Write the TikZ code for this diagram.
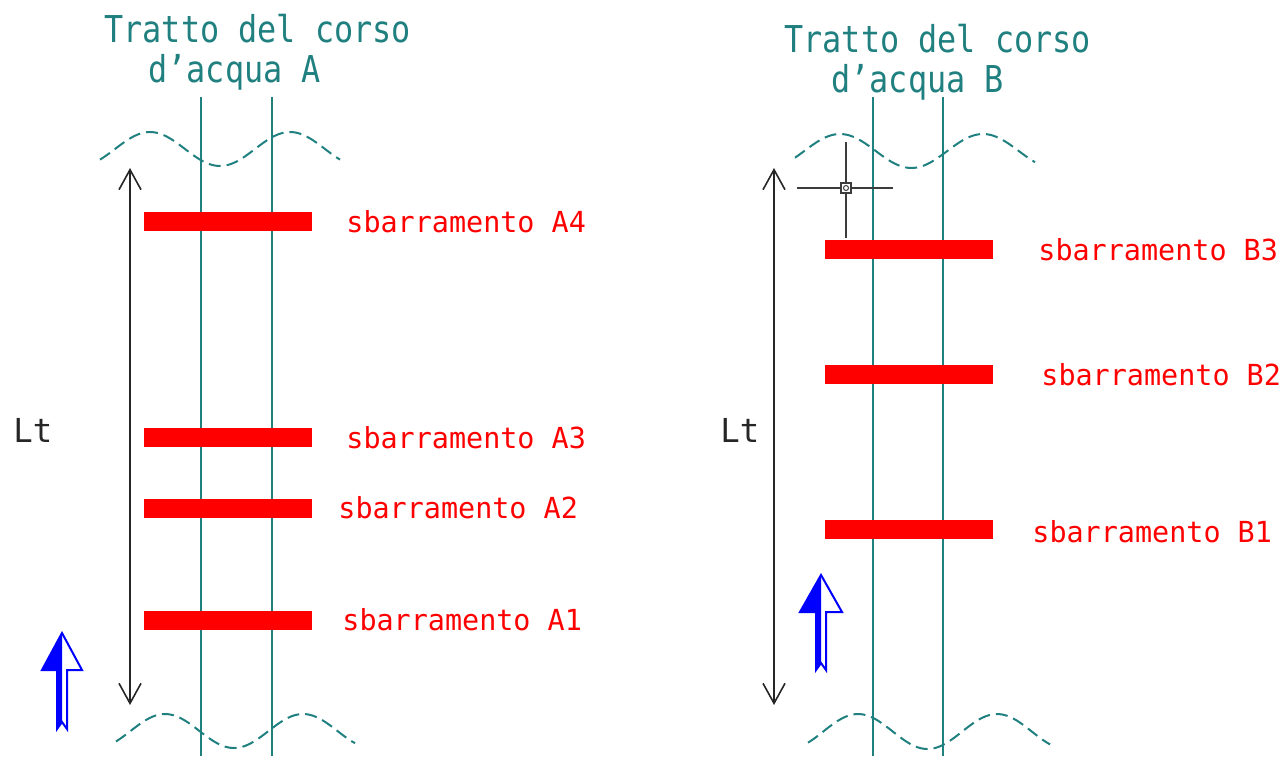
\documentclass[tikz,border=0pt]{standalone}
\usepackage{fontspec}
\newfontfamily\cadtitle[FakeStretch=0.86]{DejaVu Sans Mono}
\newfontfamily\cadlabel[FakeStretch=0.98]{DejaVu Sans Mono}
\usetikzlibrary{arrows.meta, positioning}

\definecolor{riverteal}{RGB}{32,128,128}
\definecolor{barred}{RGB}{255,0,0}
\definecolor{cursorgray}{RGB}{60,60,60}
\definecolor{flowblue}{RGB}{0,0,255}

\tikzset{
    river/.style={riverteal, line width=1pt},
    wave/.style={riverteal, line width=1pt, dash pattern=on 6pt off 3pt},
    bar/.style={fill=barred, minimum width=84pt, minimum height=9.5pt, inner sep=0pt},
    barlabel/.style={text=barred, anchor=base west, inner sep=0pt, font=\cadlabel\fontsize{14.5}{17}\selectfont},
    title/.style={text=riverteal, anchor=base west, inner sep=0pt, font=\cadtitle\fontsize{18.5}{22}\selectfont},
    dimline/.style={line width=0.8pt, black!85, {Straight Barb[length=10pt,width=11pt]}-{Straight Barb[length=10pt,width=11pt]}},
    dimlabel/.style={text=black!85, anchor=base west, inner sep=0pt, font=\cadlabel\fontsize{16.5}{19}\selectfont},
    flow/.style={flowblue, line width=1pt, line join=miter},
}

\begin{document}
\begin{tikzpicture}[x=0.5pt, y=-0.5pt]
    \useasboundingbox (0,0) rectangle (1283,756);

    % Titles
    \node[title] (titleA1) at (104,42) {Tratto del corso};
    \node[title] (titleA2) at (148,82) {d’acqua A};
    \node[title] (titleB1) at (784,52) {Tratto del corso};
    \node[title] (titleB2) at (831,92) {d’acqua B};

    % Banks of the watercourses
    \draw[river] (201,97) -- (201,756);
    \draw[river] (272,97) -- (272,756);
    \draw[river] (873,97) -- (873,756);
    \draw[river] (943,97) -- (943,756);

    % Break lines
    \draw[wave] plot[domain=100:340, samples=80] (\x, {149-17*cos((\x-150)*2.5714)});
    \draw[wave] plot[domain=116:355, samples=80] (\x, {731-17*cos((\x-165)*2.6087)});
    \draw[wave] plot[domain=795:1035, samples=80] (\x, {151-17*cos((\x-840)*2.5175)});
    \draw[wave] plot[domain=808:1050, samples=80] (\x, {731.5-17.5*cos((\x-858)*2.5899)});

    % Barriers A
    \node[bar] (barA4) at (227.5,221) {};
    \node[bar] (barA3) at (227.5,437) {};
    \node[bar] (barA2) at (227.5,508) {};
    \node[bar] (barA1) at (227.5,620) {};
    \node[barlabel] (labA4) at (346,232) {sbarramento A4};
    \node[barlabel] (labA3) at (346,448) {sbarramento A3};
    \node[barlabel] (labA2) at (338,518) {sbarramento A2};
    \node[barlabel] (labA1) at (342,630) {sbarramento A1};

    % Barriers B
    \node[bar] (barB3) at (909,249) {};
    \node[bar] (barB2) at (909,374) {};
    \node[bar] (barB1) at (909,529) {};
    \node[barlabel] (labB3) at (1038,260) {sbarramento B3};
    \node[barlabel] (labB2) at (1041,385) {sbarramento B2};
    \node[barlabel] (labB1) at (1032,542) {sbarramento B1};

    % Length Lt
    \coordinate (LtAtop) at (130,168);
    \coordinate (LtAbot) at (130,705);
    \coordinate (LtBtop) at (774,168);
    \coordinate (LtBbot) at (774,705);
    \draw[dimline] (LtAtop) -- (LtAbot);
    \draw[dimline] (LtBtop) -- (LtBbot);
    \node[dimlabel] (LtA) at (13,442) {Lt};
    \node[dimlabel] (LtB) at (720,442) {Lt};

    % Flow direction
    \fill[flowblue] (62,633) -- (42,670) -- (57,670) -- (57,729) -- (62,722) -- cycle;
    \draw[flow] (62,633) -- (82,670) -- (67,670) -- (67,729) -- (62,722) -- (57,729) -- (57,670) -- (42,670) -- cycle;
    \fill[flowblue] (821,575) -- (800,612) -- (816,612) -- (816,670) -- (821,663) -- cycle;
    \draw[flow] (821,575) -- (842,612) -- (826,612) -- (826,670) -- (821,663) -- (816,670) -- (816,612) -- (800,612) -- cycle;

    % Cursor
    \draw[cursorgray, line width=0.8pt] (797,188) -- (893,188) (846,142) -- (846,238);
    \draw[cursorgray, line width=0.8pt, fill=white] (841,183) rectangle (851,193);
    \draw[cursorgray, line width=0.5pt] (846,188) circle[radius=2.5];
\end{tikzpicture}
\end{document}
